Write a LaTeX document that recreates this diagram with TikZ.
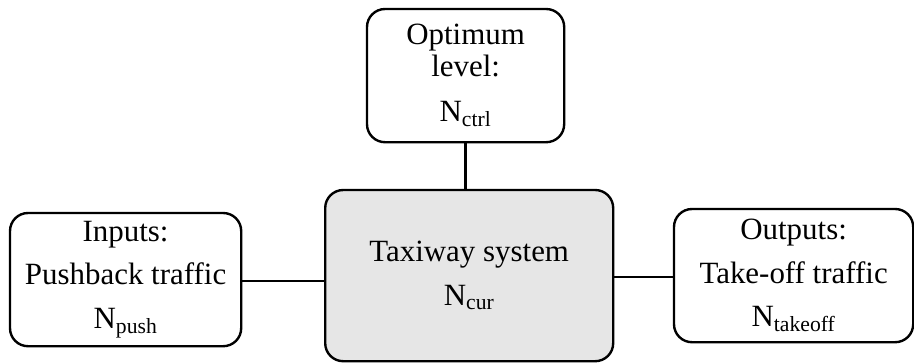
\documentclass[tikz,border=0pt]{standalone}
\usepackage{fontspec}
\setmainfont{Liberation Serif}
\usepackage{tikz}
\usetikzlibrary{positioning,calc}
\definecolor{boxgray}{RGB}{230,230,230}

\begin{document}
\begin{tikzpicture}[
    block/.style={draw=black,line width=1.7pt,rounded corners=0.45cm,align=center,
      font=\fontsize{22pt}{31pt}\selectfont,inner sep=0pt},
    link/.style={line width=1.6pt}]
    \useasboundingbox (0,0) rectangle (22.85,-9.05);
    % the system and its three neighbours
    \node[block,fill=boxgray,minimum width=7.2cm,minimum height=4.28cm] (tax) at (11.73,-6.89)
      {Taxiway system\\N\textsubscript{cur}};
    \node[block,minimum width=4.93cm,minimum height=3.33cm,
      font=\fontsize{22pt}{23pt}\selectfont] (opt) at (11.64,-1.89)
      {Optimum\\level:\\[9pt]N\textsubscript{ctrl}};
    \node[block,minimum width=5.78cm,minimum height=3.33cm] (inp) at (3.14,-6.99)
      {Inputs:\\Pushback traffic\\N\textsubscript{push}};
    \node[block,minimum width=5.98cm,minimum height=3.33cm] (outp) at (19.84,-6.89)
      {Outputs:\\Take-off traffic\\N\textsubscript{takeoff}};
    % connectors
    \draw[link] (opt.south) -- (opt.south |- tax.north);
    \draw[link] ([yshift=-0.04cm]inp.east) -- ([yshift=-0.04cm]inp.east -| tax.west);
    \draw[link] ([yshift=-0.04cm]tax.east) -- ([yshift=-0.04cm]tax.east -| outp.west);
  \end{tikzpicture}
\end{document}
